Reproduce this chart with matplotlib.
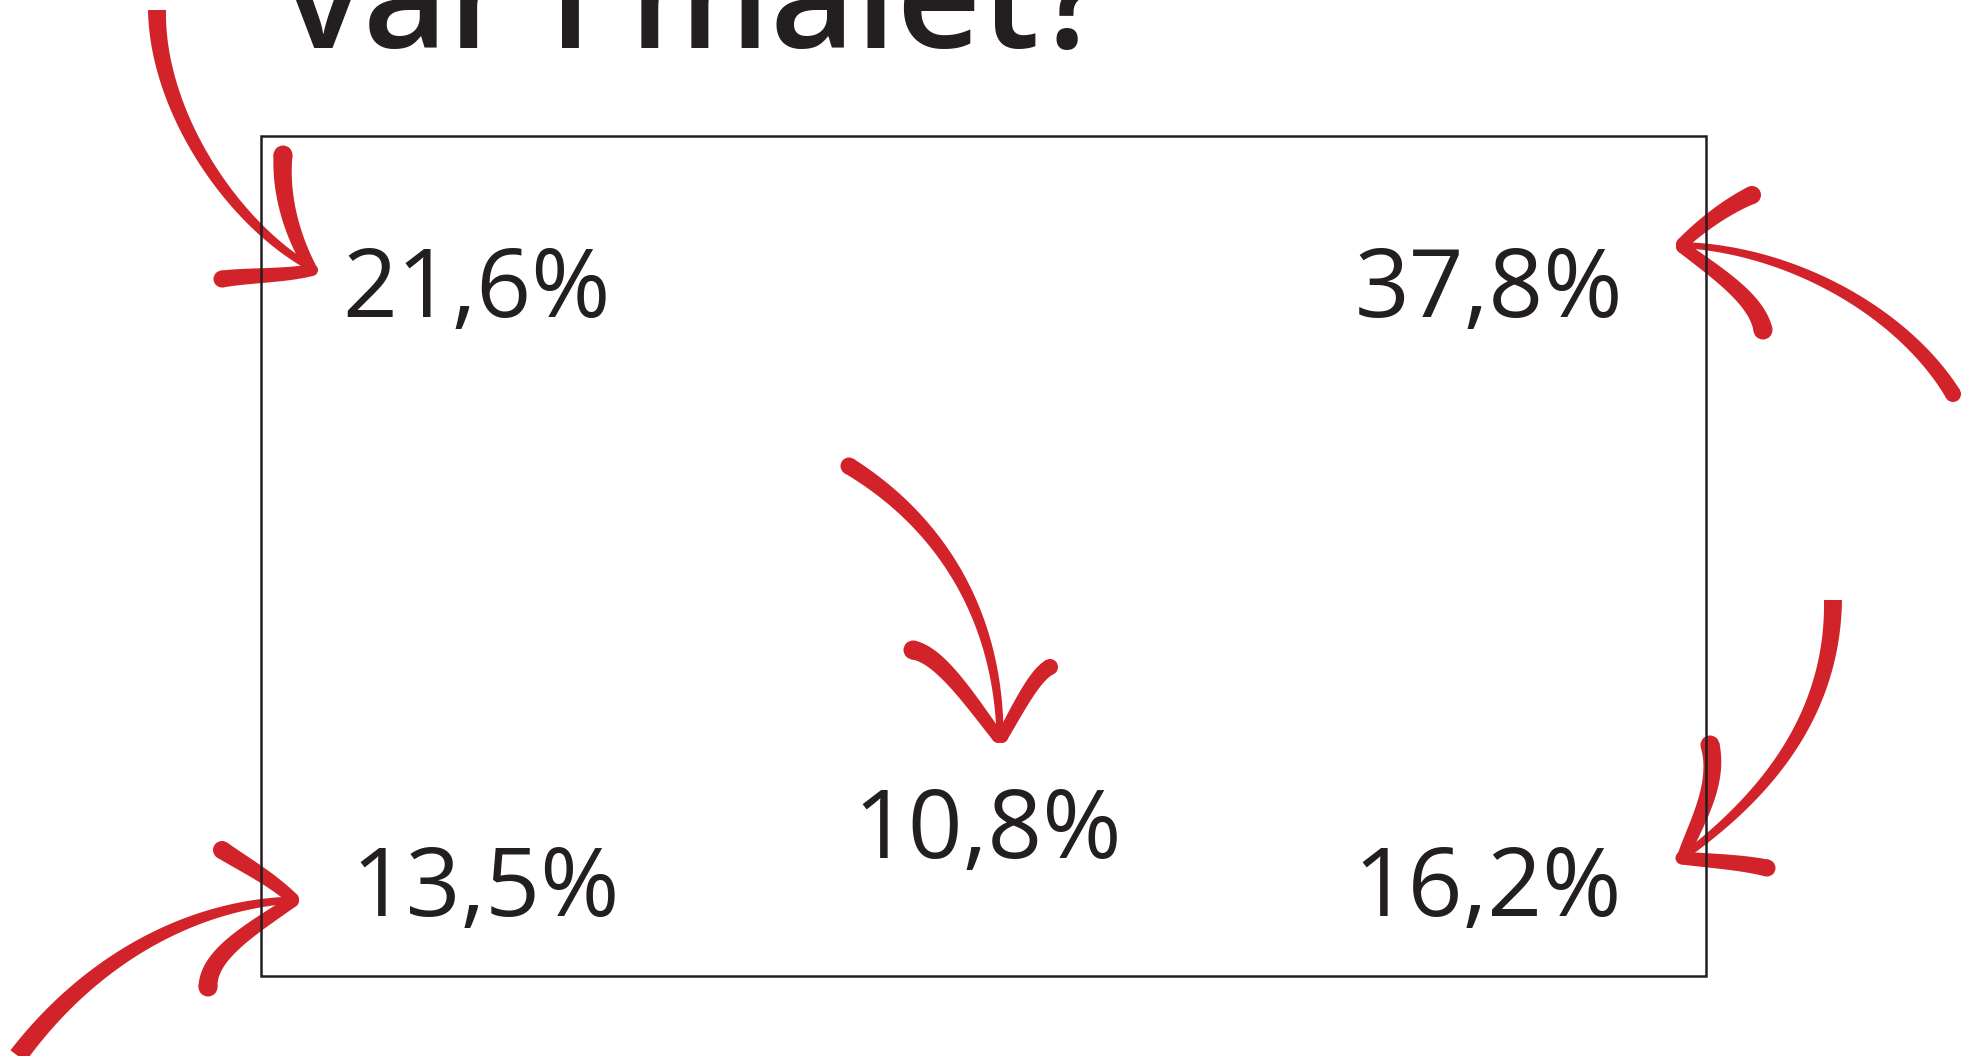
import numpy as np
import matplotlib
matplotlib.use('Agg')
import matplotlib.pyplot as plt
import matplotlib.patches as patches
from matplotlib.patches import Polygon, Circle

# --- Data: share of penalty goals per zone of the goal ---
zones = ['uppe vänster', 'uppe höger', 'mitten', 'nere vänster', 'nere höger']
shares = [21.6, 37.8, 10.8, 13.5, 16.2]

title = 'var i målet?'

RED = '#d2232a'
INK = '#231f20'
FONT = 'Open Sans'

# canvas in pixel units (1970 x 1056)
W, H = 1970, 1056
fig = plt.figure(figsize=(W / 100, H / 100), dpi=100)
ax = fig.add_axes([0, 0, 1, 1])
ax.set_xlim(0, W)
ax.set_ylim(H, 0)
ax.axis('off')

# goal frame (left, top, right, bottom)
goal = (261, 136, 1706, 976)
frame = patches.Rectangle((goal[0], goal[1]), goal[2] - goal[0], goal[3] - goal[1],
                          linewidth=1.8, edgecolor=INK, facecolor='none', zorder=3)
ax.add_patch(frame)

# label anchor per zone (centre x, baseline y)
label_pos = [(476, 317), (1489, 317), (988, 858), (486, 916), (1488, 916)]

for zone, val, (x, y) in zip(zones, shares, label_pos):
    txt = f'{val:.1f}'.replace('.', ',') + '%'
    ax.text(x, y, txt, ha='center', va='baseline', fontsize=69,
            family=FONT, color=INK, zorder=4)

# title, cut off by the top edge as in the original
ax.text(284, 48, title, ha='left', va='baseline', fontsize=106,
        family=FONT, weight='semibold', color=INK, zorder=4)


# --- hand drawn arrows (cubic bezier, tapered) ---
def bezier(p0, c1, c2, p3, n=120):
    t = np.linspace(0, 1, n)[:, None]
    p0, c1, c2, p3 = (np.asarray(p, float) for p in (p0, c1, c2, p3))
    return ((1 - t) ** 3 * p0 + 3 * (1 - t) ** 2 * t * c1
            + 3 * (1 - t) * t ** 2 * c2 + t ** 3 * p3)


def stroke(ctrl, w0, w1, cap0=True, cap1=True):
    c = bezier(*ctrl)
    d = np.gradient(c, axis=0)
    d /= np.linalg.norm(d, axis=1)[:, None]
    nrm = np.column_stack([-d[:, 1], d[:, 0]])
    w = np.linspace(w0, w1, len(c))[:, None] / 2
    poly = np.vstack([c + nrm * w, (c - nrm * w)[::-1]])
    ax.add_patch(Polygon(poly, closed=True, facecolor=RED, edgecolor='none', zorder=2))
    if cap0:
        ax.add_patch(Circle(c[0], w0 / 2, facecolor=RED, edgecolor='none', zorder=2))
    if cap1:
        ax.add_patch(Circle(c[-1], w1 / 2, facecolor=RED, edgecolor='none', zorder=2))


# top left
stroke([(157, 10), (157, 110), (230, 220), (308, 266)], 18, 7, cap0=False)
stroke([(283, 155), (280, 200), (295, 240), (310, 267)], 19, 12)
stroke([(222, 279), (250, 275), (285, 276), (312, 270)], 17, 12)

# top right
stroke([(1953, 394), (1905, 315), (1795, 250), (1682, 245)], 16, 6)
stroke([(1752, 195), (1730, 205), (1705, 222), (1682, 244)], 18, 12)
stroke([(1763, 330), (1757, 300), (1720, 275), (1682, 247)], 19, 12)

# centre
stroke([(849, 466), (945, 525), (998, 620), (1000, 735)], 17, 7)
stroke([(913, 650), (940, 655), (970, 700), (998, 737)], 19, 12)
stroke([(1050, 667), (1035, 675), (1020, 705), (1002, 737)], 16, 12)

# bottom left
stroke([(18, 1056), (90, 960), (190, 905), (293, 900)], 19, 7, cap0=False)
stroke([(222, 850), (245, 865), (270, 878), (293, 899)], 18, 12)
stroke([(208, 987), (208, 955), (250, 930), (293, 901)], 19, 12)

# bottom right
stroke([(1833, 600), (1833, 720), (1760, 800), (1683, 857)], 18, 7, cap0=False)
stroke([(1710, 745), (1720, 785), (1695, 825), (1683, 857)], 19, 12)
stroke([(1767, 868), (1740, 862), (1710, 861), (1682, 858)], 17, 13)

fig.savefig('out.png', dpi=100, facecolor='white')
